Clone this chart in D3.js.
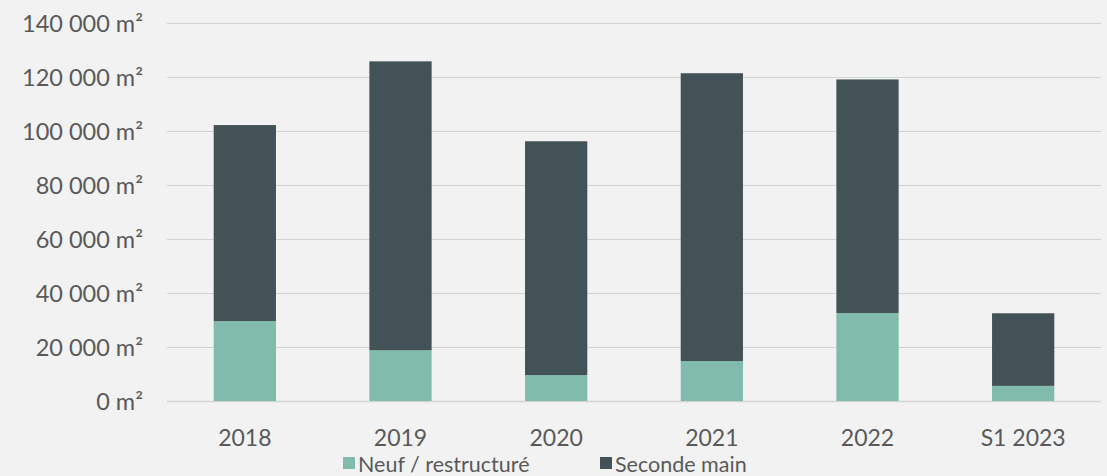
<!DOCTYPE html>
<html><head><meta charset="utf-8">
<script src="https://cdn.jsdelivr.net/npm/d3@7"></script>
<style>
html,body{margin:0;padding:0;background:#f2f2f2;}
svg{display:block;}
text{font-family:"Lato","Open Sans",sans-serif;fill:#595959;}
</style></head><body>
<svg id="c" width="1107" height="476"></svg>
<script>
const categories = ["2018","2019","2020","2021","2022","S1 2023"];
const neuf = [29600, 18800, 9600, 14800, 32600, 5600];
const seconde = [72600, 107000, 86600, 106600, 86500, 26900];
const yTicks = [0,20000,40000,60000,80000,100000,120000,140000];
const seriesNames = ["Neuf / restructuré","Seconde main"];
const colors = ["#80bbab","#435256"];

const svg = d3.select("#c");
const x = d3.scaleBand().domain(categories).range([167,1101]).paddingInner(0.6).paddingOuter(0.3);
const y = d3.scaleLinear().domain([0,140000]).range([401,23]);
const fmt = v => d3.format(",")(v).replace(/,/g," ") + " m²";

// grid
svg.append("g").selectAll("line").data(yTicks).join("line")
  .attr("x1",167).attr("x2",1101)
  .attr("y1",d=>Math.round(y(d))+0.5).attr("y2",d=>Math.round(y(d))+0.5)
  .attr("stroke",d=>d===0?"#d4d4d4":"#d0d5d3").attr("stroke-width",d=>d===0?1.5:1);

// y axis labels
const yAxis = d3.axisLeft(y).tickValues(yTicks).tickFormat(fmt).tickSize(0).tickPadding(0);
const ga = svg.append("g").attr("transform","translate(143,0)").call(yAxis);
ga.select(".domain").remove();
ga.attr("font-family",null).attr("font-size",null);
ga.selectAll("text").attr("font-size",23.5).attr("fill","#595959").attr("dy","0.35em");

// bars
const data = categories.map((c,i)=>({cat:c, neuf:neuf[i], seconde:seconde[i]}));
const stack = d3.stack().keys(["neuf","seconde"])(data);
svg.append("g").selectAll("g").data(stack).join("g")
  .attr("fill",(d,i)=>colors[i])
  .selectAll("rect").data(d=>d).join("rect")
  .attr("x",d=>x(d.data.cat)).attr("width",x.bandwidth())
  .attr("y",d=>y(d[1])).attr("height",d=>y(d[0])-y(d[1]));

// x axis labels
const xAxis = d3.axisBottom(x).tickSize(0).tickPadding(0);
const gx = svg.append("g").attr("transform","translate(0,446)").call(xAxis);
gx.select(".domain").remove();
gx.attr("font-family",null).attr("font-size",null);
gx.selectAll("text").attr("font-size",23).attr("fill","#595959").attr("dy","0");

// legend
const leg = [{name:seriesNames[0],x:343},{name:seriesNames[1],x:600}];
const lg = svg.append("g").selectAll("g").data(leg).join("g").attr("transform",d=>`translate(${d.x},0)`);
lg.append("rect").attr("x",0).attr("y",457).attr("width",12).attr("height",12).attr("fill",(d,i)=>colors[i]);
lg.append("text").attr("x",15).attr("y",472).attr("font-size",21.5).text(d=>d.name);
</script></body></html>
